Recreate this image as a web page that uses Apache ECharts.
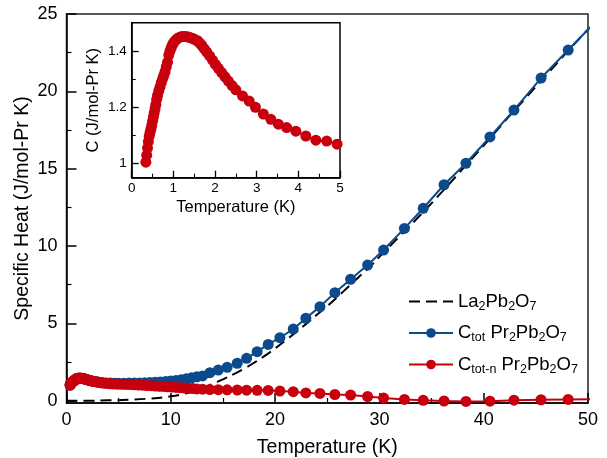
<!DOCTYPE html>
<html>
<head>
<meta charset="utf-8">
<script src="https://cdn.jsdelivr.net/npm/echarts@6/dist/echarts.min.js"></script>
<style>
html,body{margin:0;padding:0;background:#fff;}
#chart{width:607px;height:458px;}
</style>
</head>
<body>
<div id="chart"></div>
<script>
// ---- Inset data: C(T) of Pr2Pb2O7 (Ctot-n) below 5 K ----
const insetT = [0.34,0.36,0.38,0.40,0.42,0.44,0.46,0.48,0.50,0.52,0.54,0.56,0.58,0.60,0.62,0.65,0.68,0.71,0.74,0.77,0.80,0.83,0.86,0.89,0.92,0.95,0.98,1.01,1.05,1.09,1.13,1.18,1.23,1.28,1.33,1.38,1.43,1.48,1.53,1.58,1.63,1.68,1.74,1.80,1.87,1.94,2.01,2.08,2.16,2.24,2.32,2.41,2.50,2.66,2.82,2.97,3.16,3.34,3.52,3.72,3.94,4.18,4.42,4.68,4.93];
const insetC = [1.005,1.030,1.055,1.078,1.097,1.110,1.122,1.135,1.150,1.165,1.180,1.195,1.210,1.228,1.242,1.258,1.272,1.287,1.300,1.313,1.326,1.343,1.360,1.385,1.400,1.412,1.422,1.430,1.437,1.443,1.447,1.450,1.451,1.451,1.450,1.448,1.446,1.443,1.439,1.436,1.428,1.420,1.408,1.396,1.382,1.367,1.352,1.338,1.323,1.308,1.293,1.277,1.262,1.240,1.222,1.200,1.176,1.157,1.140,1.128,1.115,1.098,1.083,1.080,1.069];

// ---- Main: Ctot-n above 5 K ----
const redHiT = [5.3,5.7,6.1,6.5,6.9,7.3,7.7,8.1,8.5,8.9,9.3,9.7,10.1,10.5,10.9,11.3,11.7,12.1,12.5,13.05,13.75,14.55,15.4,16.37,17.27,18.28,19.34,20.46,21.74,22.95,24.3,25.73,27.24,28.87,30.4,32.4,34.2,36.2,38.3,40.6,42.9,45.5,48.1,50.8];
const redHiC = [1.06,1.05,1.04,1.03,1.01,1.00,0.98,0.97,0.95,0.93,0.92,0.90,0.88,0.86,0.84,0.82,0.80,0.78,0.76,0.74,0.72,0.71,0.70,0.69,0.68,0.67,0.66,0.62,0.58,0.50,0.47,0.40,0.36,0.27,0.17,0.08,0.02,-0.02,-0.05,-0.03,0.03,0.06,0.08,0.09];

// ---- Main: Ctot ----
const blueT = [0.34,0.4,0.5,0.6,0.7,0.8,0.9,1.0,1.1,1.2,1.3,1.4,1.6,1.8,2.0,2.3,2.6,3.0,3.4,3.8,4.2,4.6,5.0,5.5,6.0,6.5,7.0,7.5,8.0,8.5,9.0,9.5,10.0,10.5,11.0,11.5,12.0,12.5,13.05,13.75,14.55,15.4,16.37,17.27,18.28,19.34,20.46,21.74,22.95,24.3,25.73,27.24,28.87,30.4,32.4,34.2,36.2,38.3,40.6,42.9,45.5,48.1,50.8];
const blueC = [1.01,1.08,1.15,1.24,1.29,1.33,1.39,1.43,1.445,1.45,1.45,1.445,1.42,1.38,1.345,1.30,1.25,1.20,1.17,1.15,1.14,1.13,1.13,1.13,1.14,1.14,1.15,1.16,1.17,1.19,1.21,1.24,1.27,1.31,1.36,1.42,1.48,1.54,1.60,1.81,1.98,2.16,2.42,2.74,3.17,3.64,4.07,4.63,5.33,6.08,6.98,7.85,8.77,9.74,11.14,12.44,13.96,15.35,17.05,18.79,20.86,22.67,24.55];

// ---- Main: La2Pb2O7 (dashed) ----
const laT = [0,2,4,6,8,10,11,12,13,14,15,16,17,18,19,20,21,22,23,24,25,26,27,28,29,30,31,32,34,36,38,40,42,44,46,48,50];
const laC = [0,0,0.02,0.06,0.14,0.28,0.40,0.58,0.82,1.08,1.38,1.70,2.06,2.46,2.90,3.38,3.90,4.42,4.98,5.55,6.12,6.72,7.35,7.98,8.60,9.30,9.98,10.68,12.05,13.50,15.00,16.50,18.05,19.55,21.05,22.55,24.00];

// ---- Tick values ----
const mainYTicks = [0,5,10,15,20,25];
const mainYMinor = [2.5,7.5,12.5,17.5,22.5];
const insetYTicks = [1,1.2,1.4];
const insetYMinor = [1.1,1.3];

const seriesNames = ['La2Pb2O7','Ctot Pr2Pb2O7','Ctot-n Pr2Pb2O7'];
const legendRich = {
  'La2Pb2O7': '{n|La}{s|2}{n|Pb}{s|2}{n|O}{s|7}',
  'Ctot Pr2Pb2O7': '{n|C}{s|tot}{n| Pr}{s|2}{n|Pb}{s|2}{n|O}{s|7}',
  'Ctot-n Pr2Pb2O7': '{n|C}{s|tot-n}{n| Pr}{s|2}{n|Pb}{s|2}{n|O}{s|7}'
};

const zip = (a, b) => a.map((v, i) => [v, b[i]]);
const redMain = zip(insetT, insetC).concat(zip(redHiT, redHiC));

const BLUE = '#0b4a8d';
const RED = '#c8000e';
const FONT = 'Liberation Sans, Arial, Helvetica, sans-serif';

const chart = echarts.init(document.getElementById('chart'), null, {renderer: 'canvas'});
const axisLine = {onZero: false, lineStyle: {color: '#000', width: 1.5}};

chart.setOption({
  animation: false,
  backgroundColor: '#fff',
  textStyle: {fontFamily: FONT, color: '#000'},
  grid: [
    {left: 66.5, top: 14, width: 521.5, height: 389, show: true, borderColor: '#222', borderWidth: 1.5, backgroundColor: 'transparent', containLabel: false, outerBoundsMode: 'none'},
    {left: 131.7, top: 22.7, width: 208.3, height: 155, show: true, borderColor: '#000', borderWidth: 1.5, backgroundColor: '#fff', containLabel: false, outerBoundsMode: 'none', z: 10}
  ],
  xAxis: [
    {gridIndex: 0, type: 'value', min: 0, max: 50, interval: 10,
     name: 'Temperature (K)', nameLocation: 'middle', nameGap: 35, nameMoveOverlap: false,
     nameTextStyle: {fontSize: 19.5, fontFamily: FONT, color: '#000'},
     axisLine: axisLine, axisTick: {inside: true, length: 10, lineStyle: {color: '#000', width: 1.5}},
     minorTick: {show: true, splitNumber: 2, length: 5, lineStyle: {color: '#000', width: 1.2}},
     axisLabel: {fontSize: 18, color: '#000', margin: 8, fontFamily: FONT},
     splitLine: {show: false}},
    {gridIndex: 1, type: 'value', min: 0, max: 5, interval: 1,
     name: 'Temperature (K)', nameLocation: 'middle', nameGap: 21, nameMoveOverlap: false,
     nameTextStyle: {fontSize: 16.5, fontFamily: FONT, color: '#000'},
     axisLine: axisLine, axisTick: {inside: true, length: 7, lineStyle: {color: '#000', width: 1.3}},
     minorTick: {show: true, splitNumber: 2, length: 4, lineStyle: {color: '#000', width: 1.1}},
     axisLabel: {fontSize: 13.5, color: '#000', margin: 4, fontFamily: FONT},
     splitLine: {show: false}, z: 12}
  ],
  yAxis: [
    {gridIndex: 0, type: 'value', min: -0.15, max: 25,
     name: 'Specific Heat (J/mol-Pr K)', nameLocation: 'middle', nameGap: 34, nameMoveOverlap: false,
     nameTextStyle: {fontSize: 19.5, fontFamily: FONT, color: '#000'},
     axisLine: axisLine,
     axisTick: {inside: true, length: 10, customValues: mainYTicks, lineStyle: {color: '#000', width: 1.5}},
     axisLabel: {fontSize: 18, color: '#000', margin: 9, customValues: mainYTicks, fontFamily: FONT},
     splitLine: {show: false}},
    {gridIndex: 0, type: 'value', min: -0.15, max: 25, position: 'left',
     axisLine: {show: false, onZero: false},
     axisTick: {inside: true, length: 5, customValues: mainYMinor, lineStyle: {color: '#000', width: 1.2}},
     axisLabel: {show: false}, splitLine: {show: false}},
    {gridIndex: 1, type: 'value', min: 0.95, max: 1.5,
     name: 'C (J/mol-Pr K)', nameLocation: 'middle', nameGap: 30, nameMoveOverlap: false,
     nameTextStyle: {fontSize: 16.5, fontFamily: FONT, color: '#000'},
     axisLine: axisLine,
     axisTick: {inside: true, length: 7, customValues: insetYTicks, lineStyle: {color: '#000', width: 1.3}},
     axisLabel: {fontSize: 13.5, color: '#000', margin: 5, customValues: insetYTicks, fontFamily: FONT},
     splitLine: {show: false}, z: 12},
    {gridIndex: 1, type: 'value', min: 0.95, max: 1.5, position: 'left',
     axisLine: {show: false, onZero: false},
     axisTick: {inside: true, length: 4, customValues: insetYMinor, lineStyle: {color: '#000', width: 1.1}},
     axisLabel: {show: false}, splitLine: {show: false}, z: 12}
  ],
  legend: {
    data: [
      {name: seriesNames[0], itemStyle: {opacity: 0}},
      {name: seriesNames[1]},
      {name: seriesNames[2]}
    ],
    orient: 'vertical', left: 403, top: 285,
    itemWidth: 44, itemHeight: 12, itemGap: 8.5,
    formatter: name => legendRich[name],
    textStyle: {
      color: '#000', fontFamily: FONT,
      rich: {
        n: {fontSize: 18.5, lineHeight: 23.5, fontFamily: FONT, color: '#000'},
        s: {fontSize: 12.5, lineHeight: 13, padding: [10, 0, 0, 0], fontFamily: FONT, color: '#000'}
      }
    }
  },
  series: [
    {name: seriesNames[0], type: 'line', xAxisIndex: 0, yAxisIndex: 0,
     data: zip(laT, laC), showSymbol: false, symbol: 'none', smooth: true,
     lineStyle: {color: '#000', width: 2, type: [11, 6]}, itemStyle: {color: '#000'}, z: 2},
    {name: seriesNames[1], type: 'line', xAxisIndex: 0, yAxisIndex: 0,
     data: zip(blueT, blueC), symbol: 'circle', symbolSize: 11,
     lineStyle: {color: BLUE, width: 2}, itemStyle: {color: BLUE}, z: 3},
    {name: seriesNames[2], type: 'line', xAxisIndex: 0, yAxisIndex: 0,
     data: redMain, symbol: 'circle', symbolSize: 11,
     lineStyle: {color: RED, width: 2}, itemStyle: {color: RED}, z: 4},
    {name: 'inset', type: 'line', xAxisIndex: 1, yAxisIndex: 2,
     data: zip(insetT, insetC), symbol: 'circle', symbolSize: 11,
     lineStyle: {color: RED, width: 2}, itemStyle: {color: RED}, z: 11}
  ]
});
</script>
</body>
</html>
